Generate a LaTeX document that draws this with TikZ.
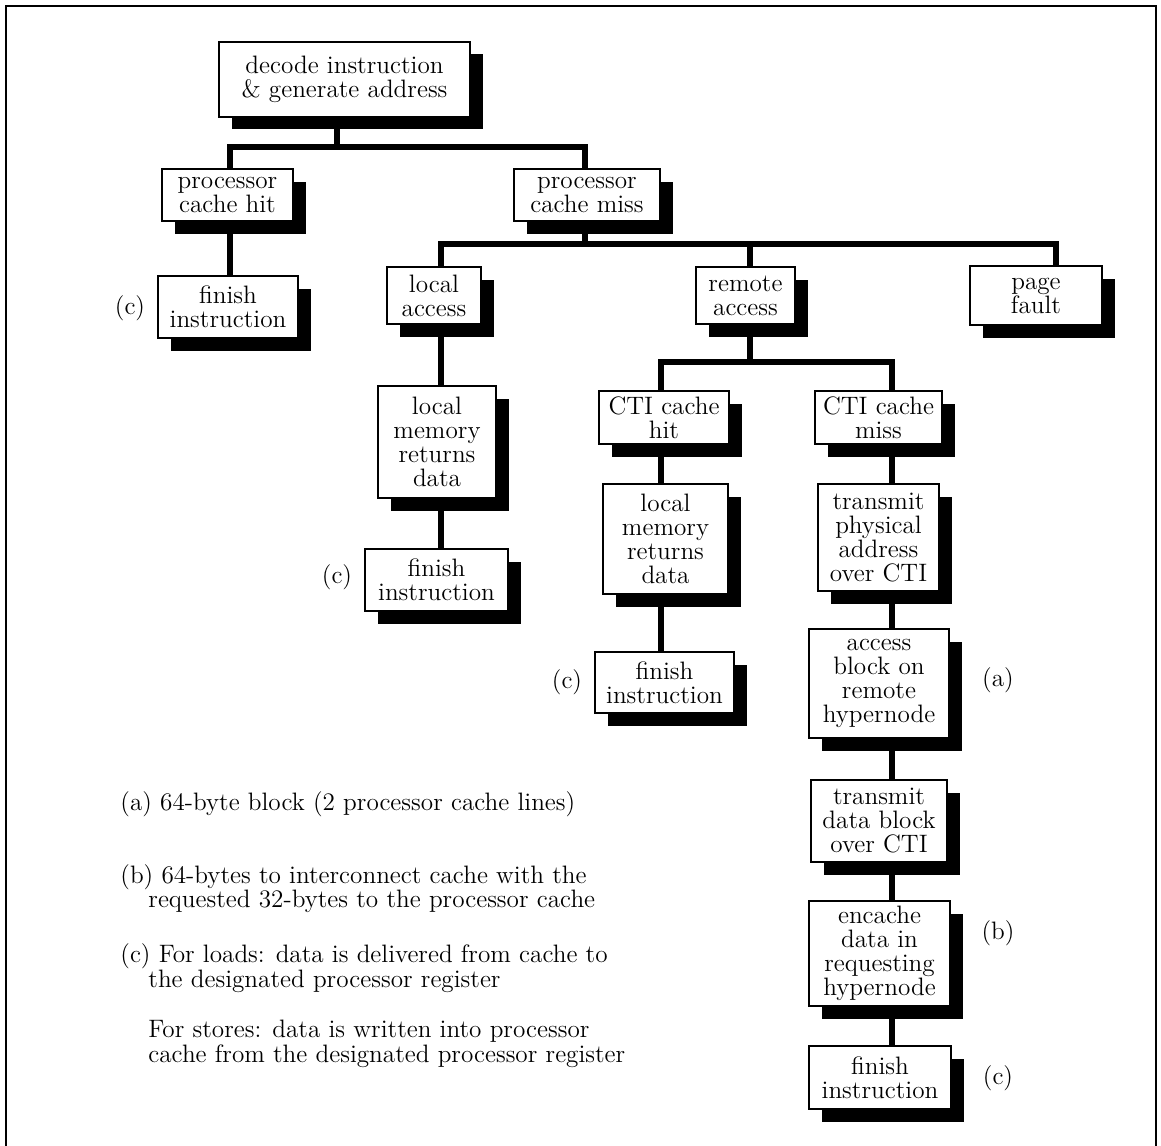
\documentclass[tikz,border=0pt]{standalone}
\usetikzlibrary{shadows,backgrounds,calc}

% a framed step of the flow with its solid offset shadow:
% #1 name, #2 left, #3 top, #4 right, #5 bottom, #6 text
\newcommand\flowbox[6]{%
  \pgfmathsetmacro\bxw{(#4-#2)*0.5}%
  \pgfmathsetmacro\bxh{(#5-#3)*0.5}%
  \node[stepbox, minimum width=\bxw pt, minimum height=\bxh pt]
    (#1) at ({(#2+#4)/2},{(#3+#5)/2}) {#6};}

\begin{document}
\begin{tikzpicture}[x=0.5pt,y=-0.5pt,
  every node/.style={font=\fontsize{12.6}{12}\selectfont},
  stepbox/.style={draw, line width=0.9pt, fill=white, inner sep=0pt, align=center,
    drop shadow={shadow xshift=6.25pt, shadow yshift=-6.25pt, opacity=1, fill=black}},
  link/.style={line width=2.6pt, line join=miter},
  note/.style={anchor=base west, inner sep=0pt},
  tag/.style={inner sep=0pt}]

\useasboundingbox (0,0) rectangle (1161,1145);

% outer frame
\draw[line width=1pt] (6,1150) -- (6,6) -- (1156,6) -- (1156,1150);

% steps
\flowbox{dec}{219}{42}{470}{117}{decode instruction\\\& generate address}
\flowbox{hit}{162}{169}{293}{221}{processor\\cache hit}
\flowbox{miss}{514}{169}{660}{221}{processor\\cache miss}
\flowbox{fin1}{158}{276}{298}{338}{finish\\instruction}
\flowbox{loc}{387}{267}{481}{324}{local\\access}
\flowbox{rem}{696}{267}{795}{324}{remote\\access}
\flowbox{pf}{970}{266}{1102}{325}{page\\fault}
\flowbox{lmr1}{378}{386}{496}{498}{local\\memory\\returns\\data}
\flowbox{fin2}{365}{549}{508}{611}{finish\\instruction}
\flowbox{ctih}{599}{391}{729}{444}{CTI cache\\hit}
\flowbox{ctim}{815}{391}{942}{444}{CTI cache\\miss}
\flowbox{lmr2}{603}{484}{728}{594}{local\\memory\\returns\\data}
\flowbox{tpa}{818}{484}{939}{591}{transmit\\physical\\address\\over CTI}
\flowbox{fin3}{595}{652}{734}{713}{finish\\instruction}
\flowbox{abr}{809}{629}{949}{738}{access\\block on\\remote\\hypernode}
\flowbox{tdb}{811}{780}{947}{862}{transmit\\data block\\over CTI}
\flowbox{enc}{809}{901}{950}{1006}{encache\\data in\\requesting\\hypernode}
\flowbox{fin4}{809}{1046}{951}{1109}{finish\\instruction}

% connectors, kept under the boxes and their shadows
\begin{scope}[on background layer]
  \coordinate (b1L) at (230,147);
  \coordinate (b1M) at (337,147);
  \coordinate (b1R) at (585,147);
  \draw[link] (dec.south -| b1M) -- (b1M);
  \draw[link] (hit.north -| b1L) -- (b1L) -- (b1R) -- (miss.north -| b1R);
  \draw[link] (hit.south -| b1L) -- (fin1.north -| b1L);

  \coordinate (b2L) at (441,244);
  \coordinate (b2M) at (585,244);
  \coordinate (b2A) at (750,244);
  \coordinate (b2R) at (1056,244);
  \draw[link] (miss.south -| b2M) -- (b2M);
  \draw[link] (loc.north -| b2L) -- (b2L) -- (b2R) -- (pf.north -| b2R);
  \draw[link] (b2A) -- (rem.north -| b2A);
  \draw[link] (loc.south -| b2L) -- (lmr1.north -| b2L);
  \draw[link] (lmr1.south -| b2L) -- (fin2.north -| b2L);

  \coordinate (b3L) at (661,362);
  \coordinate (b3M) at (750,362);
  \coordinate (b3R) at (892,362);
  \draw[link] (rem.south -| b3M) -- (b3M);
  \draw[link] (ctih.north -| b3L) -- (b3L) -- (b3R) -- (ctim.north -| b3R);
  \draw[link] (ctih.south -| b3L) -- (lmr2.north -| b3L);
  \draw[link] (lmr2.south -| b3L) -- (fin3.north -| b3L);

  \draw[link] (ctim.south -| b3R) -- (tpa.north -| b3R);
  \draw[link] (tpa.south -| b3R) -- (abr.north -| b3R);
  \draw[link] (abr.south -| b3R) -- (tdb.north -| b3R);
  \draw[link] (tdb.south -| b3R) -- (enc.north -| b3R);
  \draw[link] (enc.south -| b3R) -- (fin4.north -| b3R);
\end{scope}

% footnote marks beside the steps
\node[tag] (m1) at (130,308) {(c)};
\node[tag] (m2) at (337,577) {(c)};
\node[tag] (m3) at (567,682) {(c)};
\node[tag] (m4) at (998,680) {(a)};
\node[tag] (m5) at (998,933) {(b)};
\node[tag] (m6) at (998,1078) {(c)};

% footnotes
\node[note] (n1) at (120,810) {(a) 64-byte block (2 processor cache lines)};
\node[note] (n2) at (120,883) {(b) 64-bytes to interconnect cache with the};
\node[note] (n3) at (148,907) {requested 32-bytes to the processor cache};
\node[note] (n4) at (120,962) {(c) For loads: data is delivered from cache to};
\node[note] (n5) at (148,987) {the designated processor register};
\node[note] (n6) at (148,1037) {For stores: data is written into processor};
\node[note] (n7) at (148,1062) {cache from the designated processor register};

\end{tikzpicture}
\end{document}
